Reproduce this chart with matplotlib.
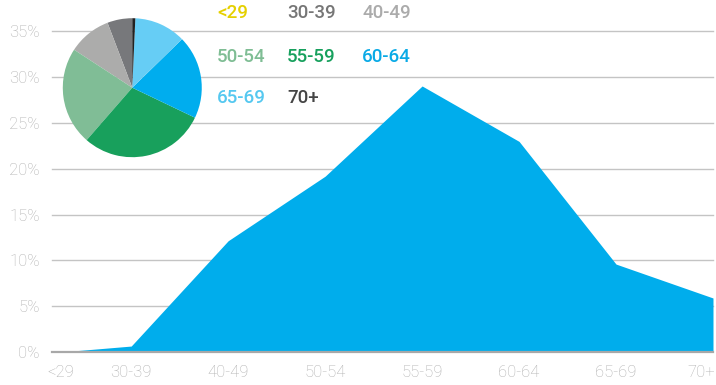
import numpy as np
import matplotlib
matplotlib.use('Agg')
import matplotlib.pyplot as plt
from matplotlib.transforms import ScaledTranslation

# данные
categories = ['<29', '30-39', '40-49', '50-54', '55-59', '60-64', '65-69', '70+']
area_pct = [0.0, 0.65, 12.15, 19.2, 29.05, 23.0, 9.6, 5.9]
pie_pct = [0.0, 5.8, 10.0, 22.8, 29.3, 19.4, 12.0, 0.7]

# цвета групп (подписи и сектора круга)
text_colors = ['#e5d000', '#767676', '#ababab', '#7fbd94', '#17a05d', '#0aaae6', '#55c8f0', '#454545']
pie_colors = ['#e5d000', '#77787b', '#acacab', '#80bd96', '#18a05c', '#00adee', '#66cdf5', '#222222']
area_color = '#00adec'

# положение категорий на оси x (первая сдвинута)
x_pos = [0.27, 1, 2, 3, 4, 5, 6, 7]

plt.rcParams['font.family'] = ['Roboto', 'DejaVu Sans']

fig = plt.figure(figsize=(7.16, 3.85), dpi=100)
ax = fig.add_axes([0.0722, 0.0857, 0.9236, 0.8325])

ax.fill_between(x_pos, area_pct, 0, color=area_color, linewidth=0, zorder=2)

ax.set_xlim(0.18, 7.0)
ax.set_ylim(0, 35)
ax.set_yticks(np.arange(0, 36, 5))
ax.set_yticklabels([f'{v}%' for v in range(0, 36, 5)])
ax.set_xticks(x_pos)
ax.set_xticklabels(categories)

for v in range(5, 36, 5):
    ax.axhline(v, color='#c4c4c4', linewidth=1.0, zorder=1, clip_on=False)
ax.axhline(0, color='#a8a8a8', linewidth=1.6, zorder=3, clip_on=False)

for s in ax.spines.values():
    s.set_visible(False)
ax.tick_params(axis='both', length=0, colors='#b0b0b0', labelsize=12)
ax.tick_params(axis='y', pad=8.5)
ax.tick_params(axis='x', pad=9)
for lab in ax.get_xticklabels() + ax.get_yticklabels():
    lab.set_fontweight('light')
    lab.set_color('#b0b0b0')

# последняя подпись чуть левее, чтобы влезла
last = ax.get_xticklabels()[-1]
last.set_transform(last.get_transform() + ScaledTranslation(-12 / 100, 0, fig.dpi_scale_trans))

# круговая диаграмма
pax = fig.add_axes([0.0877, 0.5917, 0.1941, 0.361])
pax.pie(pie_pct, colors=pie_colors, startangle=90, counterclock=True,
        wedgeprops=dict(linewidth=0))
pax.set_xlim(-1, 1)
pax.set_ylim(-1, 1)
pax.set_aspect('equal')
pax.axis('off')

# легенда текстом
col_x = [217, 287, 362]
row_y = [13.5, 56.5, 98.5]
for i, (name, c) in enumerate(zip(categories, text_colors)):
    r, k = divmod(i, 3)
    fig.text(col_x[k] / 716, 1 - row_y[r] / 385, name, color=c, fontsize=13.5,
             fontweight='medium', ha='left', va='center')

plt.savefig('out.png', dpi=100)
